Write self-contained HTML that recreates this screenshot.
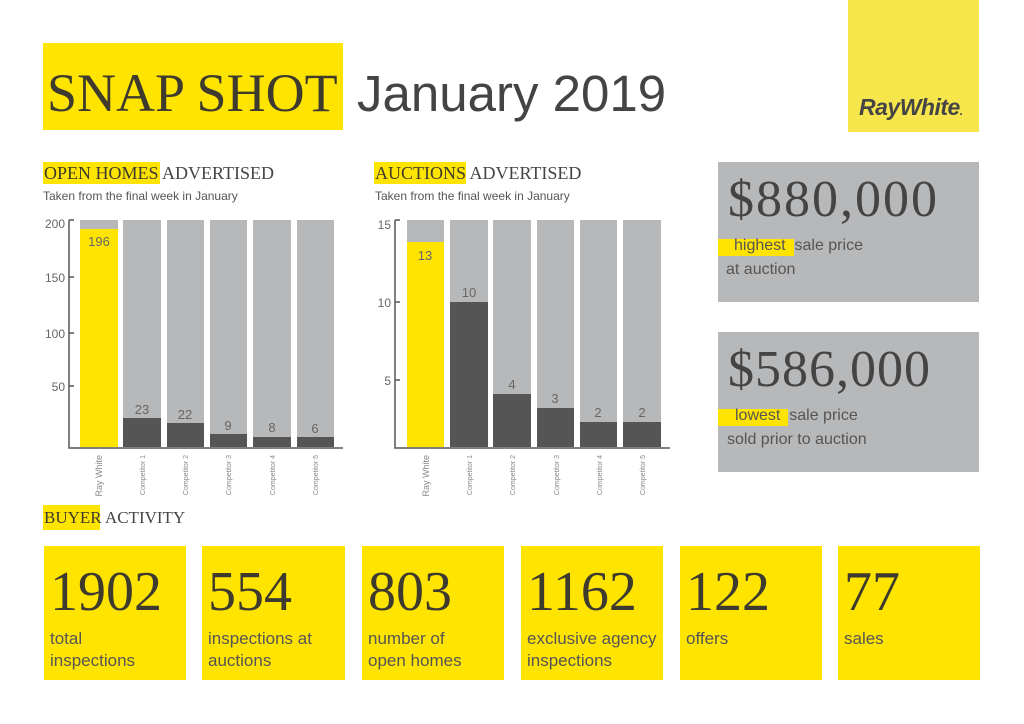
<!DOCTYPE html>
<html><head><meta charset="utf-8"><style>
body{margin:0;width:1024px;height:724px;background:#fff;position:relative;overflow:hidden;font-family:"Liberation Sans",sans-serif;color:#4a4a4a}
.a{position:absolute}
.serif{font-family:"Liberation Serif",serif}
.y{background:#ffe400}
.g{background:#b7b8ba}
.bx{position:absolute;top:546px;width:142px;height:134px;background:#ffe400}
.bx .n{position:absolute;left:6px;top:14px;font-family:"Liberation Serif",serif;font-size:56px;letter-spacing:0px;color:#3e3b2e}
.bx .t{position:absolute;left:6px;top:82px;font-size:17px;line-height:22px;color:#555}
</style></head><body>
<div class="a y" style="left:43px;top:43px;width:300px;height:87px"></div>
<div class="a serif" style="left:47px;top:58px;font-size:54px;color:#3e3b2e;line-height:70px">SNAP SHOT</div>
<div class="a" style="left:357px;top:62px;font-size:51px;color:#444;line-height:64px">January 2019</div>
<div class="a" style="left:848px;top:0;width:131px;height:132px;background:#f7e54c"></div>
<div class="a" style="left:859px;top:94px;font-size:23px;font-weight:bold;font-style:italic;color:#444;letter-spacing:-0.5px">RayWhite<span style="font-size:12px">.</span></div>

<div class="a y" style="left:43px;top:162px;width:117px;height:22px"></div>
<div class="a serif" style="left:44px;top:163px;font-size:18px;color:#3e3b2e">OPEN HOMES <span style="color:#444">ADVERTISED</span></div>
<div class="a" style="left:43px;top:189px;font-size:12px;color:#555">Taken from the final week in January</div>
<div class="a y" style="left:374px;top:162px;width:92px;height:22px"></div>
<div class="a serif" style="left:375px;top:163px;font-size:18px;color:#3e3b2e">AUCTIONS <span style="color:#444">ADVERTISED</span></div>
<div class="a" style="left:375px;top:189px;font-size:12px;color:#555">Taken from the final week in January</div>

<svg class="a" style="left:0;top:0" width="1024" height="724" font-family="Liberation Sans" font-size="12" fill="#666">
<g>
<rect x="80" y="220" width="38" height="227" fill="#b7b8ba"/><rect x="80" y="229" width="38" height="218" fill="#ffe400"/>
<rect x="123" y="220" width="38" height="227" fill="#b7b8ba"/><rect x="123" y="418" width="38" height="29" fill="#555"/>
<rect x="167" y="220" width="37" height="227" fill="#b7b8ba"/><rect x="167" y="423" width="37" height="24" fill="#555"/>
<rect x="210" y="220" width="37" height="227" fill="#b7b8ba"/><rect x="210" y="434" width="37" height="13" fill="#555"/>
<rect x="253" y="220" width="38" height="227" fill="#b7b8ba"/><rect x="253" y="437" width="38" height="10" fill="#555"/>
<rect x="297" y="220" width="37" height="227" fill="#b7b8ba"/><rect x="297" y="437" width="37" height="10" fill="#555"/>
<path d="M69 220V448H343M69 220h5M69 277h5M69 333h5M69 386h5" stroke="#555" stroke-width="1.5" fill="none"/>
<g text-anchor="end"><text x="65" y="228">200</text><text x="65" y="282">150</text><text x="65" y="338">100</text><text x="65" y="391">50</text></g>
<g text-anchor="middle" font-size="13"><text x="99" y="246">196</text><text x="142" y="414">23</text><text x="185" y="419">22</text><text x="228" y="430">9</text><text x="272" y="432">8</text><text x="315" y="433">6</text></g>
<g font-size="7" fill="#888" text-anchor="end">
<text transform="translate(102,455) rotate(-90)" font-size="9">Ray White</text>
<text transform="translate(145,455) rotate(-90)">Competitor 1</text><text transform="translate(188,455) rotate(-90)">Competitor 2</text>
<text transform="translate(231,455) rotate(-90)">Competitor 3</text><text transform="translate(275,455) rotate(-90)">Competitor 4</text>
<text transform="translate(318,455) rotate(-90)">Competitor 5</text></g>
</g>
<g>
<rect x="407" y="220" width="37" height="227" fill="#b7b8ba"/><rect x="407" y="242" width="37" height="205" fill="#ffe400"/>
<rect x="450" y="220" width="38" height="227" fill="#b7b8ba"/><rect x="450" y="302" width="38" height="145" fill="#555"/>
<rect x="493" y="220" width="38" height="227" fill="#b7b8ba"/><rect x="493" y="394" width="38" height="53" fill="#555"/>
<rect x="537" y="220" width="37" height="227" fill="#b7b8ba"/><rect x="537" y="408" width="37" height="39" fill="#555"/>
<rect x="580" y="220" width="37" height="227" fill="#b7b8ba"/><rect x="580" y="422" width="37" height="25" fill="#555"/>
<rect x="623" y="220" width="38" height="227" fill="#b7b8ba"/><rect x="623" y="422" width="38" height="25" fill="#555"/>
<path d="M395 220V448H670M395 220h5M395 302h5M395 380h5" stroke="#555" stroke-width="1.5" fill="none"/>
<g text-anchor="end"><text x="391" y="229">15</text><text x="391" y="307">10</text><text x="391" y="385">5</text></g>
<g text-anchor="middle" font-size="13"><text x="425" y="260">13</text><text x="469" y="297">10</text><text x="512" y="389">4</text><text x="555" y="403">3</text><text x="598" y="417">2</text><text x="642" y="417">2</text></g>
<g font-size="7" fill="#888" text-anchor="end">
<text transform="translate(429,455) rotate(-90)" font-size="9">Ray White</text>
<text transform="translate(472,455) rotate(-90)">Competitor 1</text><text transform="translate(515,455) rotate(-90)">Competitor 2</text>
<text transform="translate(559,455) rotate(-90)">Competitor 3</text><text transform="translate(602,455) rotate(-90)">Competitor 4</text>
<text transform="translate(645,455) rotate(-90)">Competitor 5</text></g>
</g>
</svg>

<div class="a g" style="left:718px;top:162px;width:261px;height:140px"></div>
<div class="a serif" style="left:728px;top:170px;font-size:52px;letter-spacing:2px;color:#444">$880,000</div>
<div class="a y" style="left:718px;top:239px;width:76px;height:17px"></div>
<div class="a" style="left:734px;top:237px;font-size:16px;color:#555">highest&nbsp; sale price</div>
<div class="a" style="left:726px;top:261px;font-size:16px;color:#555">at auction</div>
<div class="a g" style="left:718px;top:332px;width:261px;height:140px"></div>
<div class="a serif" style="left:728px;top:340px;font-size:52px;letter-spacing:1px;color:#444">$586,000</div>
<div class="a y" style="left:718px;top:409px;width:70px;height:17px"></div>
<div class="a" style="left:735px;top:407px;font-size:16px;color:#555">lowest&nbsp; sale price</div>
<div class="a" style="left:727px;top:431px;font-size:16px;color:#555">sold prior to auction</div>

<div class="a y" style="left:43px;top:505px;width:57px;height:25px"></div>
<div class="a serif" style="left:44px;top:508px;font-size:17px;color:#3e3b2e">BUYER <span style="color:#444">ACTIVITY</span></div>

<div class="bx" style="left:44px"><div class="n">1902</div><div class="t">total<br>inspections</div></div>
<div class="bx" style="left:202px;width:143px"><div class="n">554</div><div class="t">inspections at<br>auctions</div></div>
<div class="bx" style="left:362px"><div class="n">803</div><div class="t">number of<br>open homes</div></div>
<div class="bx" style="left:521px"><div class="n">1162</div><div class="t">exclusive agency<br>inspections</div></div>
<div class="bx" style="left:680px"><div class="n">122</div><div class="t">offers</div></div>
<div class="bx" style="left:838px"><div class="n">77</div><div class="t">sales</div></div>
</body></html>
